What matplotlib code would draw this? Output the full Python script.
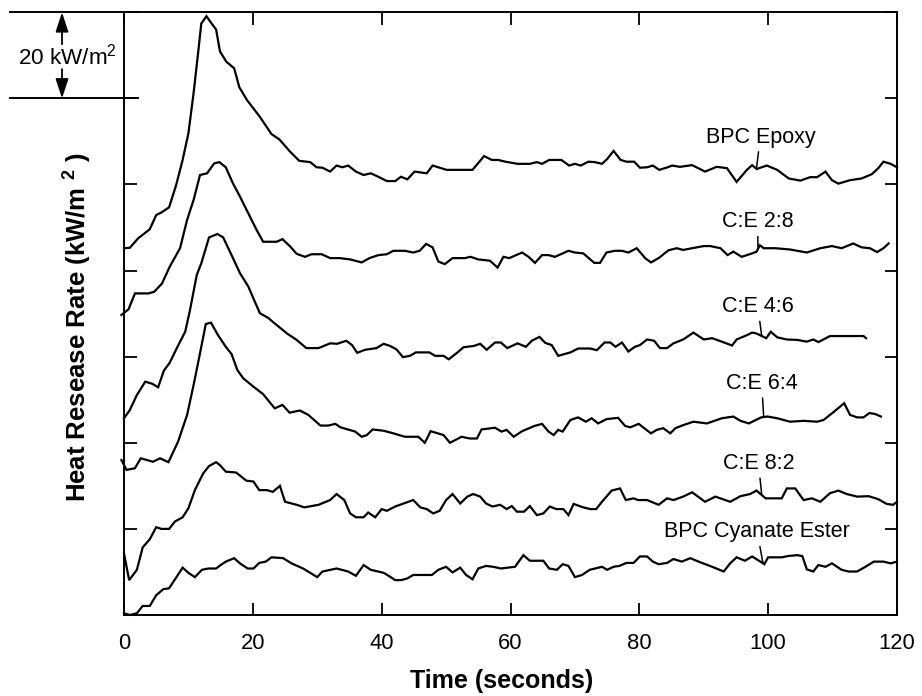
import matplotlib
matplotlib.use("Agg")
import matplotlib.pyplot as plt
import matplotlib.transforms as mtransforms

plt.rcParams['font.family'] = ['Liberation Sans', 'DejaVu Sans']
plt.rcParams['mathtext.fontset'] = 'custom'
plt.rcParams['mathtext.rm'] = 'Liberation Sans'
plt.rcParams['mathtext.bf'] = 'Liberation Sans:bold'

# ---------------- data (stacked heat release rate curves, kW/m^2 on stacked scale) ----------------
epoxy_t = [0.0, 0.9, 2.2, 4.0, 5.0, 5.8, 7.0, 8.1, 9.1, 10.0, 10.8, 11.5, 12.0, 12.8, 13.6, 14.3, 14.9, 15.9,
           17.1, 17.9, 19.1, 21.1, 22.9, 24.1, 25.8, 27.2, 28.9, 29.9, 30.8, 32.0, 33.0, 33.9, 34.8, 36.0, 37.2,
           38.3, 39.2, 40.8, 42.1, 43.0, 44.0, 45.1, 47.0, 47.9, 50.1, 54.1, 55.9, 57.1, 58.1, 59.2, 61.1, 63.0,
           64.1, 64.9, 66.0, 67.9, 69.1, 70.0, 70.9, 72.1, 73.1, 74.2, 75.0, 76.0, 77.1, 78.0, 79.2, 80.1, 81.2,
           82.1, 83.1, 84.4, 85.1, 86.3, 88.2, 90.2, 92.0, 93.6, 95.1, 96.7, 97.5, 98.2, 99.8, 101.4, 103.2,
           105.0, 106.5, 107.6, 108.9, 109.9, 110.9, 112.7, 114.5, 116.1, 117.1, 117.9, 119.0, 120.0]
epoxy_v = [85.2, 85.3, 87.5, 89.6, 92.9, 93.5, 94.7, 99.9, 105.7, 111.9, 121.2, 130.5, 137.4, 139.1, 137.4, 136.0,
           130.9, 128.5, 127.0, 122.6, 119.6, 115.7, 111.7, 110.5, 107.6, 105.5, 105.2, 104.0, 103.9, 103.0, 104.4,
           104.0, 104.4, 103.0, 102.2, 102.6, 102.0, 100.8, 100.8, 101.8, 101.2, 103.0, 102.6, 104.4, 103.4, 103.4,
           106.6, 105.7, 105.7, 105.3, 104.8, 104.8, 105.2, 104.8, 105.7, 105.7, 104.4, 104.8, 104.4, 105.3, 105.2,
           104.8, 105.9, 107.8, 105.7, 105.3, 105.3, 103.9, 104.0, 104.4, 103.4, 104.0, 104.4, 104.1, 104.5, 103.0,
           104.1, 103.8, 100.6, 103.4, 104.5, 103.6, 104.4, 103.4, 101.4, 100.9, 101.7, 101.7, 103.0, 101.0, 100.2,
           101.0, 101.4, 102.4, 103.8, 105.3, 104.8, 104.0]

ce28_t = [-0.4, 0.7, 1.7, 3.8, 4.7, 5.9, 7.1, 8.7, 9.8, 10.8, 11.8, 12.9, 14.0, 14.8, 15.8, 16.9, 18.0, 19.3, 20.6,
          21.6, 23.7, 24.6, 25.8, 26.8, 28.1, 29.1, 30.7, 32.0, 33.5, 35.1, 36.9, 38.1, 39.5, 40.8, 41.8, 43.6,
          44.9, 45.9, 46.9, 47.9, 48.8, 49.8, 51.0, 52.9, 53.8, 55.0, 56.8, 58.0, 58.9, 59.8, 61.8, 62.8, 63.8,
          64.9, 65.9, 66.9, 69.0, 70.0, 71.3, 73.0, 73.9, 74.9, 76.2, 77.3, 78.3, 79.6, 80.9, 81.8, 83.0, 84.5,
          85.8, 86.8, 88.2, 90.0, 91.0, 92.6, 93.7, 94.6, 95.9, 97.5, 98.2, 98.7, 99.3, 101.1, 103.4, 106.0,
          108.1, 109.9, 111.4, 113.2, 114.5, 115.8, 116.9, 117.9, 118.7]
ce28_v = [69.7, 71.0, 74.7, 74.7, 75.1, 77.0, 80.9, 85.2, 91.8, 96.4, 102.2, 102.6, 104.9, 105.2, 104.0, 100.3,
          97.2, 93.3, 89.4, 86.7, 86.7, 87.3, 85.6, 83.9, 83.2, 83.8, 83.8, 82.9, 82.9, 82.6, 81.9, 82.9, 83.6,
          83.8, 84.6, 84.6, 84.2, 84.6, 86.2, 85.4, 82.1, 81.5, 82.9, 82.9, 83.2, 82.6, 82.3, 80.7, 83.2, 82.9,
          84.2, 83.2, 81.8, 83.6, 83.6, 83.2, 84.6, 84.2, 84.0, 81.8, 81.8, 84.2, 84.6, 84.6, 84.2, 85.2, 82.9,
          81.9, 82.9, 84.7, 85.2, 84.8, 85.2, 85.7, 85.7, 85.2, 83.6, 84.4, 83.2, 84.0, 84.4, 85.9, 85.2, 85.2,
          84.9, 84.2, 85.2, 85.7, 85.2, 86.3, 85.4, 85.2, 84.3, 85.2, 86.3]

ce46_t = [0.0, 0.9, 2.0, 3.3, 4.4, 5.3, 6.2, 7.1, 8.2, 9.5, 10.2, 11.3, 12.0, 13.2, 14.5, 15.4, 16.7, 18.0, 19.3,
          20.3, 21.1, 22.4, 23.1, 25.3, 26.8, 28.3, 30.2, 32.0, 33.1, 34.5, 35.4, 36.2, 37.4, 39.2, 40.3, 41.3,
          42.3, 43.3, 44.4, 45.3, 47.4, 48.3, 49.6, 50.4, 51.7, 52.7, 54.3, 55.3, 56.3, 57.6, 58.5, 59.5, 61.1,
          62.4, 63.3, 64.5, 65.4, 66.4, 67.4, 69.3, 70.5, 72.4, 73.4, 74.6, 75.5, 76.3, 77.3, 78.3, 79.3, 80.1,
          81.2, 82.3, 83.2, 84.3, 85.3, 86.8, 88.4, 90.0, 91.3, 92.8, 94.4, 95.1, 96.7, 97.5, 98.2, 99.0, 99.7,
          100.4, 101.4, 102.9, 104.5, 106.0, 107.0, 107.8, 109.6, 114.8, 115.2]
ce46_v = [45.7, 47.6, 51.1, 54.2, 53.7, 52.9, 56.8, 58.6, 62.0, 65.8, 70.5, 79.0, 81.7, 87.7, 88.5, 87.7, 83.6,
          79.4, 76.3, 72.8, 70.1, 69.0, 68.1, 65.4, 63.9, 62.0, 62.0, 63.1, 63.0, 63.7, 62.7, 60.9, 61.6, 62.0,
          63.0, 62.5, 61.7, 59.9, 60.2, 61.0, 61.0, 60.2, 60.2, 59.4, 60.9, 62.2, 62.5, 63.0, 61.6, 63.3, 63.3,
          62.0, 63.1, 62.3, 63.7, 64.6, 63.2, 62.7, 60.2, 61.0, 61.9, 61.9, 61.5, 63.3, 63.3, 62.3, 63.3, 61.2,
          62.3, 62.7, 64.0, 63.7, 62.0, 62.0, 63.1, 64.0, 65.6, 64.0, 64.3, 63.5, 62.6, 64.0, 65.0, 65.6, 65.4,
          64.8, 64.3, 65.8, 64.5, 64.0, 63.9, 63.5, 64.0, 63.4, 64.8, 64.8, 64.3]

ce64_t = [-0.4, 0.4, 1.7, 2.6, 4.5, 5.6, 6.9, 8.4, 9.8, 10.8, 11.8, 12.7, 13.5, 14.6, 15.8, 16.7, 17.6, 18.5, 20.2,
          21.6, 23.4, 24.6, 25.7, 27.3, 28.6, 30.5, 31.7, 32.8, 33.6, 35.9, 36.9, 37.7, 38.6, 40.3, 41.8, 43.6,
          45.7, 46.7, 47.6, 49.6, 50.6, 52.4, 53.7, 54.8, 55.5, 57.6, 58.6, 59.4, 60.5, 61.8, 63.7, 64.9, 65.9,
          66.7, 67.4, 68.1, 69.3, 70.5, 71.7, 72.6, 73.6, 74.9, 76.7, 77.8, 78.6, 79.9, 81.8, 82.7, 83.7, 84.8,
          85.6, 86.8, 88.4, 90.5, 92.8, 94.6, 95.7, 97.0, 98.9, 99.9, 101.4, 103.4, 105.5, 107.6, 108.6, 110.2,
          111.8, 112.7, 113.8, 114.8, 115.7, 116.6, 117.5]
ce64_v = [36.0, 33.7, 34.1, 36.4, 35.6, 36.4, 35.5, 40.3, 46.5, 53.4, 60.8, 67.6, 67.9, 65.0, 62.3, 60.6, 56.9,
          55.0, 52.9, 51.3, 48.0, 48.8, 47.0, 47.5, 46.5, 44.0, 44.0, 44.4, 43.6, 42.6, 41.4, 41.8, 43.1, 42.8,
          42.2, 41.4, 41.4, 40.0, 42.7, 41.8, 40.0, 41.4, 41.0, 41.0, 43.1, 43.5, 42.6, 43.0, 41.4, 42.7, 43.9,
          44.4, 42.6, 41.8, 43.0, 42.6, 45.3, 45.9, 44.9, 45.7, 44.5, 45.5, 45.8, 43.9, 43.6, 44.4, 42.2, 43.0,
          43.4, 42.2, 43.4, 44.1, 44.9, 44.5, 45.7, 46.1, 45.1, 44.5, 45.9, 46.1, 45.7, 44.9, 45.1, 44.9, 45.3,
          47.2, 49.2, 46.5, 45.9, 45.9, 46.9, 46.7, 46.1]

ce82_t = [0.0, 0.8, 2.0, 2.9, 4.0, 5.0, 5.8, 7.0, 7.9, 9.1, 10.0, 11.0, 12.3, 13.2, 14.3, 14.9, 15.8, 17.4, 19.0,
          20.1, 21.0, 22.2, 23.1, 24.2, 25.0, 26.8, 28.0, 30.2, 32.0, 33.0, 34.2, 35.1, 36.0, 37.2, 37.9, 39.0,
          40.0, 40.8, 42.1, 43.4, 44.9, 46.0, 47.0, 48.0, 49.0, 50.0, 51.0, 52.2, 53.3, 54.2, 55.3, 56.2, 57.2,
          58.4, 59.4, 60.2, 61.0, 62.1, 63.0, 64.1, 65.1, 66.1, 67.1, 68.2, 69.0, 69.8, 71.3, 72.4, 73.3, 74.2,
          75.7, 77.0, 77.9, 79.1, 79.8, 81.2, 83.0, 84.3, 85.3, 86.8, 88.2, 90.2, 91.8, 94.1, 95.7, 97.2, 98.2,
          99.6, 102.1, 102.9, 104.2, 105.5, 106.8, 108.1, 109.6, 110.9, 112.2, 113.8, 115.6, 117.1, 118.4, 119.4,
          120.0]
ce82_v = [14.3, 8.1, 10.5, 15.7, 17.6, 20.4, 20.0, 20.0, 21.7, 22.7, 24.8, 29.0, 32.9, 34.6, 35.5, 34.8, 33.3,
          33.1, 31.2, 31.0, 29.0, 29.0, 28.6, 30.0, 26.3, 25.6, 25.0, 25.6, 26.7, 28.1, 26.7, 23.6, 22.7, 22.7,
          23.8, 22.7, 24.6, 24.2, 25.2, 25.9, 26.7, 25.0, 24.6, 23.6, 24.2, 26.7, 28.1, 25.9, 27.5, 28.1, 27.5,
          25.9, 25.2, 25.6, 24.6, 25.3, 24.0, 24.0, 25.3, 23.2, 23.6, 25.2, 24.6, 24.6, 23.2, 25.8, 25.0, 24.6,
          24.6, 26.3, 28.9, 29.4, 26.7, 27.1, 26.7, 26.7, 25.6, 27.1, 26.7, 27.5, 28.5, 26.3, 27.5, 26.3, 27.6,
          28.1, 28.9, 27.1, 27.1, 29.4, 29.4, 26.7, 27.1, 26.3, 28.3, 28.9, 28.1, 27.5, 27.6, 26.9, 25.8, 25.6,
          26.3]

cyan_t = [0.0, 0.9, 2.0, 2.9, 4.0, 5.0, 6.1, 7.0, 8.1, 9.1, 10.0, 11.0, 12.1, 13.1, 14.3, 15.0, 15.8, 17.1, 18.0,
          19.2, 20.1, 21.0, 22.0, 22.9, 24.7, 26.0, 27.8, 30.0, 30.8, 33.0, 34.8, 36.0, 37.2, 38.3, 40.3, 41.3,
          42.1, 43.0, 44.0, 44.9, 47.8, 48.8, 50.0, 51.0, 52.2, 53.1, 54.1, 55.0, 56.2, 57.3, 58.5, 60.7, 62.0,
          63.0, 65.1, 66.0, 67.2, 68.1, 69.0, 70.0, 71.1, 72.3, 74.2, 75.0, 76.0, 76.9, 78.0, 79.1, 80.1, 81.2,
          82.1, 83.0, 84.3, 85.3, 86.6, 87.9, 89.2, 91.3, 93.1, 94.1, 95.1, 96.4, 97.5, 98.8, 99.4, 100.0, 102.1,
          103.1, 104.5, 105.3, 106.0, 107.0, 107.8, 108.9, 109.9, 111.4, 112.5, 113.8, 115.1, 116.4, 117.9, 119.0,
          120.0]
cyan_v = [0.4, 0.0, 0.4, 2.1, 2.1, 4.6, 6.0, 6.2, 8.7, 11.0, 9.8, 8.8, 10.5, 10.8, 10.8, 11.6, 12.4, 13.2, 12.0,
          10.8, 10.8, 12.1, 12.4, 13.4, 13.2, 12.0, 10.8, 8.8, 10.1, 10.8, 10.1, 9.1, 11.6, 10.5, 9.8, 8.9, 8.1,
          8.1, 8.5, 9.3, 9.3, 10.5, 11.2, 9.9, 11.0, 9.3, 8.3, 10.8, 11.4, 11.2, 10.8, 11.2, 13.9, 12.6, 12.6,
          10.8, 10.5, 11.8, 11.4, 8.8, 9.3, 10.5, 11.2, 10.5, 11.2, 11.4, 12.1, 12.1, 13.6, 13.6, 12.4, 11.8,
          12.1, 13.0, 12.4, 13.2, 12.4, 11.2, 10.1, 12.0, 13.4, 12.6, 13.6, 12.4, 11.8, 13.4, 13.4, 13.7, 13.9,
          13.7, 10.6, 10.1, 11.6, 11.2, 12.0, 10.5, 10.1, 10.1, 11.2, 12.4, 12.4, 12.0, 12.4]

series_t = [epoxy_t, ce28_t, ce46_t, ce64_t, ce82_t, cyan_t]
series_v = [epoxy_v, ce28_v, ce46_v, ce64_v, ce82_v, cyan_v]

labels = ["BPC Epoxy", "C:E 2:8", "C:E 4:6", "C:E 6:4", "C:E 8:2", "BPC Cyanate Ester"]
label_text_t = [98.8, 98.4, 98.4, 99.0, 98.5, 98.3]
label_text_v = [111.0, 91.3, 71.6, 53.8, 35.2, 19.3]
label_tip_t = [98.2, 98.4, 99.0, 99.3, 99.0, 99.2]
label_tip_v = [104.0, 85.5, 64.8, 46.1, 27.9, 12.0]

x_ticks = [0, 20, 40, 60, 80, 100, 120]
y_ticks = [0, 20, 40, 60, 80, 100, 120, 140]
scale_bar = (120, 140)   # 20 kW/m^2 reference bar

# ---------------- figure ----------------
fig = plt.figure(figsize=(9.22, 6.96), dpi=100)
ax = fig.add_axes([124 / 922, 1 - 615 / 696, (897 - 124) / 922, (615 - 12.3) / 696])

for t, v in zip(series_t, series_v):
    ax.plot(t, v, color='black', lw=1.6, solid_joinstyle='miter', clip_on=False)

for lab, tx, ty, px, py in zip(labels, label_text_t, label_text_v, label_tip_t, label_tip_v):
    ax.annotate(lab, xy=(px, py), xytext=(tx, ty), ha='center', va='center', fontsize=15.5,
                arrowprops=dict(arrowstyle='-', lw=1.1, color='black', shrinkA=1, shrinkB=0))

ax.set_xlim(0, 120)
ax.set_ylim(0, 140)
ax.set_xticks(x_ticks)
ax.set_yticks(y_ticks)
ax.set_yticklabels([])
ax.tick_params(axis='both', which='both', direction='in', top=True, right=True,
               length=9, width=1.3, labelsize=15.8)
ax.tick_params(axis='x', pad=13)
for s in ax.spines.values():
    s.set_linewidth(1.4)

# scale bar outside the axes
trans = mtransforms.blended_transform_factory(ax.transAxes, ax.transData)
x_left, x_right = -0.1475, 0.018
for yy in scale_bar:
    ax.plot([x_left, x_right], [yy, yy], color='black', lw=1.4, transform=trans, clip_on=False)
x_arrow = -0.0802
ax.annotate('', xy=(x_arrow, scale_bar[1]), xytext=(x_arrow, 132.6), xycoords=trans, textcoords=trans,
            arrowprops=dict(arrowstyle='-|>,head_length=0.85,head_width=0.28', mutation_scale=14,
                            lw=1.3, color='black', shrinkA=0, shrinkB=0))
ax.annotate('', xy=(x_arrow, scale_bar[0]), xytext=(x_arrow, 126.8), xycoords=trans, textcoords=trans,
            arrowprops=dict(arrowstyle='-|>,head_length=0.85,head_width=0.28', mutation_scale=14,
                            lw=1.3, color='black', shrinkA=0, shrinkB=0))
ax.text(-0.073, 129.7, '20 kW/m$^2$', transform=trans, ha='center', va='center', fontsize=16.2)

fig.text(502 / 922, 1 - 681 / 696, 'Time (seconds)', ha='center', va='center',
         fontsize=18, fontweight='bold')
fig.text(77 / 922, 1 - 327 / 696, r'Heat Resease Rate (kW/m $^{\mathbf{2}}$ )', ha='center', va='center',
         rotation=90, fontsize=18.5, fontweight='bold')

fig.savefig('out.png', dpi=100)
